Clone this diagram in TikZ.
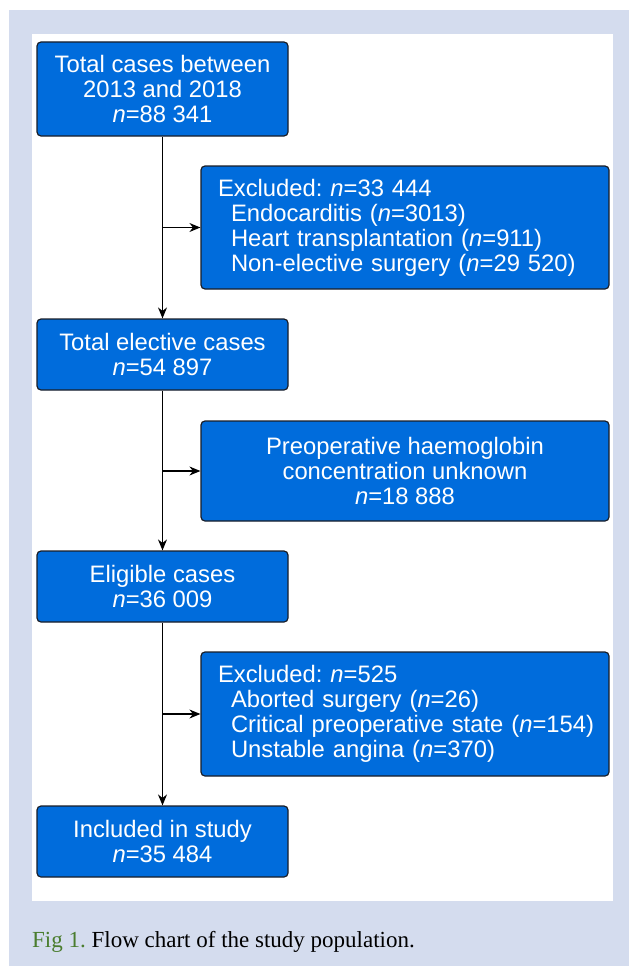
\documentclass[tikz,border=0pt]{standalone}
\usepackage{fontspec}
\setmainfont{Liberation Sans}
\newfontfamily\capfont{Liberation Serif}
\usetikzlibrary{arrows.meta}
\definecolor{pagebg}{RGB}{212,220,238}
\definecolor{boxfill}{RGB}{0,108,220}
\definecolor{boxline}{RGB}{25,30,40}
\definecolor{figgreen}{RGB}{74,125,46}
\tikzset{
  flowbox/.style={draw=boxline, line width=1.2pt, fill=boxfill, rounded corners=4pt,
    text=white, inner sep=0pt, font=\fontsize{23.8}{25}\selectfont, align=center},
  listbox/.style={flowbox, align=left, inner xsep=8pt, text width=392pt},
  conn/.style={line width=1.2pt, draw=black, -{Stealth[length=11pt,width=9pt]}},
  plain/.style={line width=1.2pt, draw=black}
}
\newcommand{\lead}{\hspace*{9pt}}
\newcommand{\ind}{\hspace*{22pt}}
\frenchspacing
\begin{document}
\begin{tikzpicture}[x=1pt,y=-1pt]
\useasboundingbox (0,0) rectangle (629,966);
\fill[pagebg] (9,10) rectangle (629,966);
\fill[white] (32,34) rectangle (613,901);

\node[flowbox, minimum width=251pt, minimum height=94pt] (b1) at (162.5,89)
  {Total cases between\\2013 and 2018\\\textit{n}=88 341};
\node[listbox, minimum height=123pt] (b2) at (405,227.5)
  {\lead Excluded: \textit{n}=33 444\\
   \ind Endocarditis (\textit{n}=3013)\\
   \ind Heart transplantation (\textit{n}=911)\\
   \ind Non-elective surgery (\textit{n}=29 520)};
\node[flowbox, minimum width=251pt, minimum height=71pt] (b3) at (162.5,354.5)
  {Total elective cases\\\textit{n}=54 897};
\node[flowbox, minimum width=408pt, minimum height=100pt] (b4) at (405,471)
  {Preoperative haemoglobin\\concentration unknown\\\textit{n}=18 888};
\node[flowbox, minimum width=251pt, minimum height=71pt] (b5) at (162.5,586.5)
  {Eligible cases\\\textit{n}=36 009};
\node[listbox, minimum height=124pt] (b6) at (405,714)
  {\lead Excluded: \textit{n}=525\\
   \ind Aborted surgery (\textit{n}=26)\\
   \ind Critical preoperative state (\textit{n}=154)\\
   \ind Unstable angina (\textit{n}=370)};
\node[flowbox, minimum width=251pt, minimum height=71pt] (b7) at (162.5,841.5)
  {Included in study\\\textit{n}=35 484};

\coordinate (j1) at (b1.south |- b2.west);
\coordinate (j2) at (b3.south |- b4.west);
\coordinate (j3) at (b5.south |- b6.west);

\draw[conn] (b1.south) -- (b3.north);
\draw[conn] (b3.south) -- (b5.north);
\draw[conn] (b5.south) -- (b7.north);
\draw[conn] (j1) -- (b2.west);
\draw[conn] (j2) -- (b4.west);
\draw[conn] (j3) -- (b6.west);

\node[anchor=base west, inner sep=0pt, font=\capfont\fontsize{23}{26}\selectfont] (cap) at (32,947)
  {\textcolor{figgreen}{Fig 1.} Flow chart of the study population.};
\end{tikzpicture}
\end{document}
